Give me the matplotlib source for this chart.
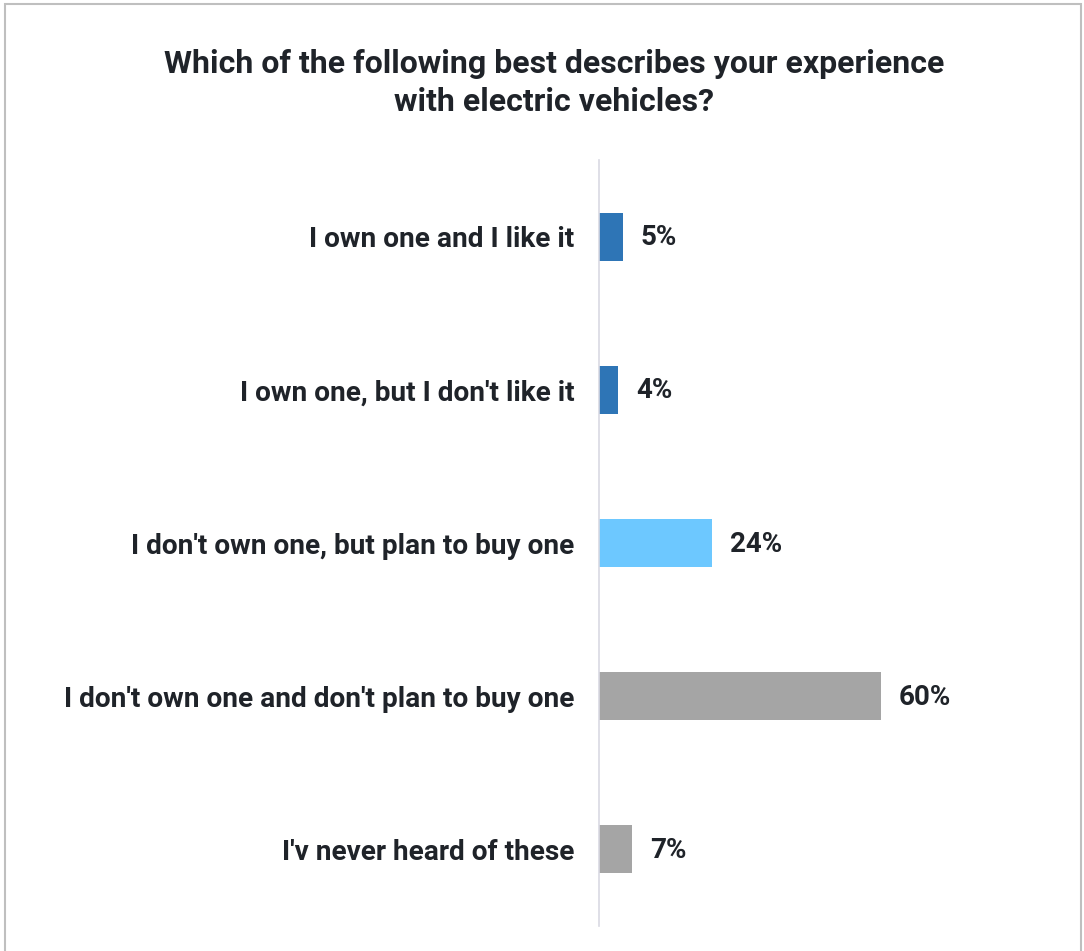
import matplotlib.pyplot as plt
from matplotlib.patches import Rectangle

plt.rcParams['font.family'] = ['Roboto', 'DejaVu Sans']

answers = ["I own one and I like it",
           "I own one, but I don't like it",
           "I don't own one, but plan to buy one",
           "I don't own one and don't plan to buy one",
           "I'v never heard of these"]
shares = [5, 4, 24, 60, 7]
colors = ["#2E75B6", "#2E75B6", "#6DC8FF", "#A5A5A5", "#A5A5A5"]

text_color = "#1F2329"

fig = plt.figure(figsize=(10.84, 9.51), dpi=100)
ax = fig.add_axes([599 / 1084, 25 / 951, 470 / 1084, 766 / 951])

y = range(len(answers))
rects = ax.barh(y, shares, height=0.314, color=colors)

# value labels just right of each bar
for rect, v in zip(rects, shares):
    ax.annotate('{}%'.format(v),
                xy=(rect.get_width(), rect.get_y() + rect.get_height() / 2),
                xytext=(18, -1), textcoords="offset pixels",
                ha='left', va='center', fontsize=20, fontweight='bold', color=text_color)

ax.set_xlim(0, 100)
ax.set_ylim(4.5, -0.5)
ax.set_yticks(list(y))
ax.set_yticklabels(answers, fontsize=20.2, fontweight='bold', color=text_color)
ax.tick_params(axis='y', length=0, pad=17.5)
ax.set_xticks([])
for s in ['top', 'right', 'bottom']:
    ax.spines[s].set_visible(False)
ax.spines['left'].set_color("#D9D9E3")
ax.spines['left'].set_linewidth(1.2)

fig.text(554 / 1084, 1 - 83 / 951,
         "Which of the following best describes your experience\nwith electric vehicles?",
         ha='center', va='center', fontsize=23, fontweight='bold', color=text_color,
         linespacing=1.32)

# thin gray frame around the whole card
fig.patches.append(Rectangle((5 / 1084, -0.01), 1076 / 1084, 1 - 4 / 951 + 0.01,
                             transform=fig.transFigure, fill=False,
                             edgecolor="#BFBFBF", linewidth=1.5))

fig.savefig("out.png", dpi=100)
